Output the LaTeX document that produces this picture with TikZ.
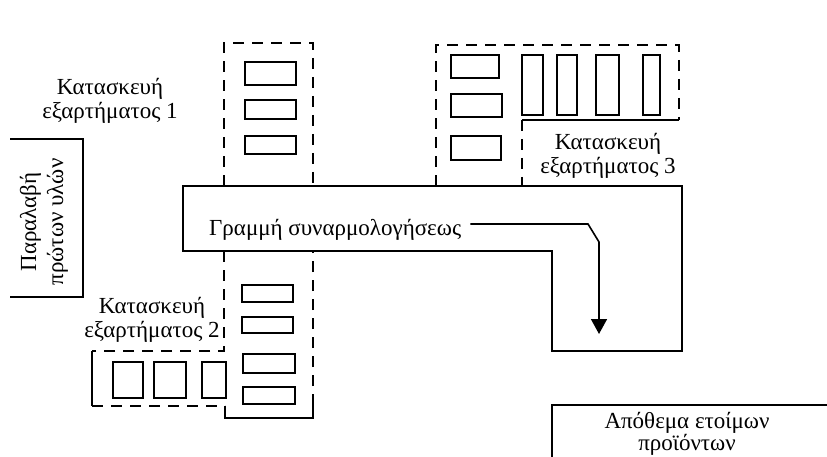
\documentclass[tikz,border=0pt]{standalone}
\usepackage{fontspec}
\setmainfont{Liberation Serif}
\usetikzlibrary{arrows.meta}
\begin{document}
\begin{tikzpicture}[x=1pt,y=-1pt,line join=miter,
  solidline/.style={line width=1.6pt},
  dashline/.style={line width=1.6pt,dash pattern=on 11pt off 8pt},
  machine/.style={draw,line width=1.6pt,inner sep=0pt,outer sep=0pt},
  lbl/.style={font=\fontsize{23}{24}\selectfont,align=center,inner sep=0pt}]
\useasboundingbox (0,0) rectangle (827,457);
\clip (0,0) rectangle (827,457);

% Receiving of raw materials
\draw[solidline] (10,139) -- (83,139) -- (83,297) -- (10,297);
\node[lbl,rotate=90,font=\fontsize{23}{27}\selectfont] (recv) at (44,222) {Παραλαβή\\πρώτων υλών};

% Assembly line
\draw[solidline] (183,186) -- (682,186) -- (682,351) -- (552,351) -- (552,251) -- (183,251) -- cycle;
\node[lbl,anchor=base west] (asm) at (209,235) {Γραμμή συναρμολογήσεως};
\coordinate (astart) at ([shift={(9,-11)}]asm.base east);
\coordinate (atip) at (599,334);
\draw[line width=1.6pt,-{Triangle[length=15pt,width=16pt]}] (astart) -- (588,224) -- (599,242) -- (atip);

% Department 1
\draw[dashline] (224,186) -- (224,43) -- (313,43) -- (313,186);
\node[machine,minimum width=51pt,minimum height=23pt] (a1) at (270.5,73.5) {};
\node[machine,minimum width=51pt,minimum height=19pt] (a2) at (270.5,109.5) {};
\node[machine,minimum width=51pt,minimum height=18pt] (a3) at (270.5,145) {};
\node[lbl] (lab1) at (110,101) {Κατασκευή\\εξαρτήματος 1};

% Department 3
\draw[dashline] (436,186) -- (436,45) -- (679,45) -- (679,120);
\draw[solidline] (679,120) -- (522,120);
\draw[dashline] (522,120) -- (522,186);
\node[machine,minimum width=48pt,minimum height=23pt] (c1) at (475,66.5) {};
\node[machine,minimum width=51pt,minimum height=23pt] (c2) at (476.5,105.5) {};
\node[machine,minimum width=50pt,minimum height=24pt] (c3) at (476,148) {};
\node[machine,minimum width=21pt,minimum height=60pt] (v1) at (532.5,85) {};
\node[machine,minimum width=20pt,minimum height=60pt] (v2) at (567,85) {};
\node[machine,minimum width=23pt,minimum height=60pt] (v3) at (607.5,85) {};
\node[machine,minimum width=17pt,minimum height=60pt] (v4) at (651.5,85) {};
\node[lbl] (lab3) at (608,156) {Κατασκευή\\εξαρτήματος 3};

% Department 2
\draw[dashline] (224,251) -- (224,351) -- (92,351);
\draw[solidline] (92,351) -- (92,406);
\draw[dashline] (92,406) -- (225,406);
\draw[solidline] (225,406) -- (225,418) -- (313,418) -- (313,405);
\draw[dashline] (313,405) -- (313,251);
\node[machine,minimum width=51pt,minimum height=17pt] (b1) at (267.5,293.5) {};
\node[machine,minimum width=51pt,minimum height=16pt] (b2) at (267.5,325) {};
\node[machine,minimum width=52pt,minimum height=19pt] (b3) at (269,363.5) {};
\node[machine,minimum width=52pt,minimum height=17pt] (b4) at (269,395.5) {};
\node[machine,minimum width=30pt,minimum height=36pt] (s1) at (128,380) {};
\node[machine,minimum width=32pt,minimum height=36pt] (s2) at (170,380) {};
\node[machine,minimum width=24pt,minimum height=36pt] (s3) at (214,380) {};
\node[lbl] (lab2) at (152,320) {Κατασκευή\\εξαρτήματος 2};

% Finished goods store
\draw[solidline] (827,405) -- (552,405) -- (552,457);
\node[lbl,anchor=south,font=\fontsize{23}{22}\selectfont] (store) at (687,456) {Απόθεμα ετοίμων\\προϊόντων};
\end{tikzpicture}
\end{document}
